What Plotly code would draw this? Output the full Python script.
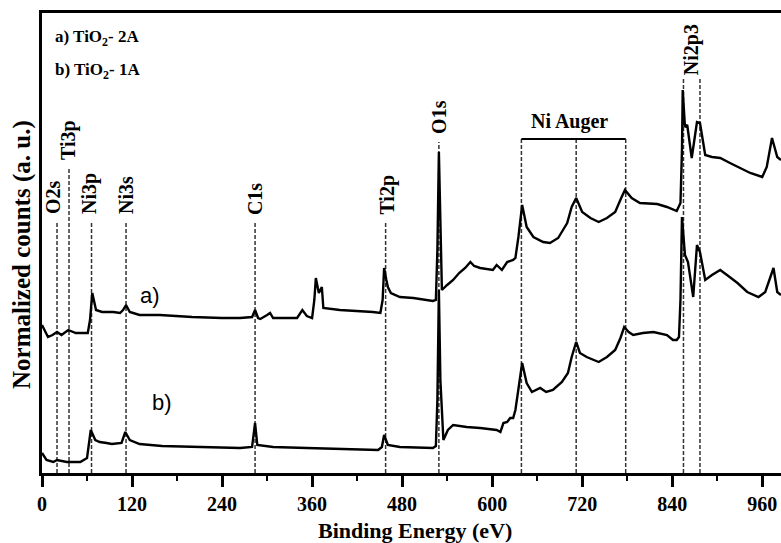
import plotly.graph_objects as go

# ---------------- data ----------------
energy_a = [0, 8, 14, 20, 26, 35, 45, 61, 64, 67, 72, 80, 95, 104, 108, 112, 117, 130, 157, 200,
            240, 264, 280, 284, 288, 291, 300, 304, 308, 317, 340, 347, 353, 360, 363, 365, 367, 369,
            371, 373, 375, 397, 441, 451, 454, 456, 459, 461, 465, 477, 495, 521, 525, 527, 529, 531,
            533, 540, 548, 556, 564, 571, 576, 584, 601, 606, 613, 620, 628, 631, 635, 640, 646, 655,
            668, 677, 688, 700, 706, 712, 720, 731, 742, 753, 764, 772, 777, 786, 797, 820, 833, 846,
            851, 853, 854, 857, 860, 866, 873, 877, 884, 893, 904, 917, 931, 944, 960, 966, 973, 980, 985]
counts_a = [148, 136, 138, 141, 138, 143, 140, 140, 153, 180, 163, 161, 161, 160, 163, 168, 161, 158, 158, 156,
            155, 155, 156, 163, 155, 154, 158, 160, 155, 155, 155, 163, 157, 155, 173, 195, 185, 180,
            183, 186, 165, 163, 161, 160, 173, 205, 193, 186, 180, 176, 175, 172, 173, 223, 321, 243,
            183, 188, 193, 200, 205, 211, 207, 205, 203, 208, 203, 211, 213, 215, 236, 268, 246, 236,
            231, 230, 235, 250, 266, 275, 261, 255, 251, 255, 261, 275, 283, 275, 270, 269, 266, 262,
            270, 323, 383, 346, 348, 315, 351, 350, 318, 316, 315, 310, 305, 300, 296, 306, 335, 316, 313]

energy_b = [0, 6, 15, 20, 33, 51, 60, 65, 71, 77, 86, 93, 106, 111, 117, 130, 160, 200, 264, 280,
            284, 287, 308, 353, 397, 448, 453, 456, 461, 477, 521, 525, 527, 529, 531, 535, 541, 548,
            566, 584, 606, 611, 615, 620, 624, 628, 631, 635, 640, 646, 653, 664, 672, 681, 693, 701,
            706, 712, 717, 726, 742, 753, 764, 771, 776, 782, 788, 801, 815, 833, 841, 846, 849, 851,
            853, 857, 861, 868, 873, 877, 884, 893, 904, 913, 927, 940, 955, 964, 975, 980, 985]
counts_b = [20, 13, 11, 13, 11, 11, 15, 43, 33, 31, 30, 29, 30, 41, 33, 29, 27, 26, 25, 26,
            50, 28, 26, 25, 24, 23, 26, 38, 28, 26, 25, 27, 73, 183, 93, 33, 43, 48,
            46, 45, 43, 41, 50, 51, 55, 55, 63, 83, 110, 90, 81, 85, 81, 83, 91, 100,
            116, 131, 120, 116, 111, 116, 123, 135, 146, 141, 138, 140, 141, 138, 133, 133, 136, 173,
            256, 218, 211, 176, 228, 221, 193, 198, 203, 198, 190, 181, 176, 181, 205, 181, 178]

x_ticks = [0, 120, 240, 360, 480, 600, 720, 840, 960]

peak_names = ["O2s", "Ti3p", "Ni3p", "Ni3s", "C1s", "Ti2p", "O1s"]
peak_pos = [20, 36, 66, 112, 284, 458, 529]
peak_top = [251, 305, 251, 251, 250, 250, 331]

auger_pos = [639, 712, 778]
auger_top = 334
ni2p_pos = [855, 877]
ni2p_top = 395

sample_labels = ["a) TiO<sub>2</sub>- 2A", "b) TiO<sub>2</sub>- 1A"]

# ---------------- figure ----------------
SERIF = "Liberation Serif"
fig = go.Figure()
fig.add_trace(go.Scatter(x=energy_a, y=counts_a, mode="lines",
                         line=dict(color="black", width=2.4), showlegend=False))
fig.add_trace(go.Scatter(x=energy_b, y=counts_b, mode="lines",
                         line=dict(color="black", width=2.4), showlegend=False))

dash_style = dict(color="#333333", width=1.5, dash="4px,2px")
shapes = []
for p, t in zip(peak_pos, peak_top):
    shapes.append(dict(type="line", xref="x", yref="y", x0=p, x1=p, y0=0, y1=t, line=dash_style, layer="below"))
for p in auger_pos:
    shapes.append(dict(type="line", xref="x", yref="y", x0=p, x1=p, y0=0, y1=auger_top, line=dash_style, layer="below"))
shapes.append(dict(type="line", xref="x", yref="y", x0=auger_pos[0], x1=auger_pos[-1], y0=auger_top, y1=auger_top,
                   line=dict(color="black", width=1.8)))
for p in ni2p_pos:
    shapes.append(dict(type="line", xref="x", yref="y", x0=p, x1=p, y0=0, y1=ni2p_top, line=dash_style, layer="below"))

annotations = []
label_shift = [-4, -1, -2, 0, 0, 1, 0]
for name, p, t, sh in zip(peak_names, peak_pos, peak_top, label_shift):
    annotations.append(dict(x=p, y=t + 6, xref="x", yref="y", text=name, textangle=-90, showarrow=False,
                            xanchor="center", yanchor="bottom", xshift=sh,
                            font=dict(family=SERIF, size=20, color="black", weight="bold")))
annotations.append(dict(x=(ni2p_pos[0] + ni2p_pos[1]) / 2, y=ni2p_top + 1, xref="x", yref="y", text="Ni2p3",
                        textangle=-90, showarrow=False, xanchor="center", yanchor="bottom",
                        font=dict(family=SERIF, size=20, color="black", weight="bold")))
annotations.append(dict(x=703, y=auger_top + 4, xref="x", yref="y", text="Ni Auger", showarrow=False,
                        xanchor="center", yanchor="bottom",
                        font=dict(family=SERIF, size=20, color="black", weight="bold")))
annotations.append(dict(x=144, y=178, xref="x", yref="y", text="a)", showarrow=False,
                        font=dict(family="Liberation Sans", size=22, color="black")))
annotations.append(dict(x=160, y=71, xref="x", yref="y", text="b)", showarrow=False,
                        font=dict(family="Liberation Sans", size=22, color="black")))
label_y = [0.945, 0.873]
for lab, ly in zip(sample_labels, label_y):
    annotations.append(dict(x=0.015, y=ly, xref="paper", yref="paper", text=lab, showarrow=False,
                            xanchor="left", yanchor="middle",
                            font=dict(family=SERIF, size=17, color="black", weight="bold")))
annotations.append(dict(x=-0.027, y=0.474, xref="paper", yref="paper", text="Normalized counts (a. u.)",
                        textangle=-90, showarrow=False, xanchor="center", yanchor="middle",
                        font=dict(family=SERIF, size=25, color="black", weight="bold")))
annotations.append(dict(x=0.505, y=-0.124, xref="paper", yref="paper", text="Binding Energy (eV)",
                        showarrow=False, xanchor="center", yanchor="middle",
                        font=dict(family=SERIF, size=22, color="black", weight="bold")))

fig.update_layout(
    width=781, height=543,
    margin=dict(l=42, r=0, t=13, b=70),
    paper_bgcolor="white", plot_bgcolor="white",
    shapes=shapes, annotations=annotations,
    xaxis=dict(range=[0, 985], tickvals=x_ticks, ticks="outside", ticklen=11, tickwidth=2.5,
               tickcolor="black", showline=True, linewidth=2.5, linecolor="black", mirror=True,
               showgrid=False, zeroline=False, automargin=False,
               tickfont=dict(family=SERIF, size=20, color="black", weight="bold"),
               minor=dict(tickvals=[60, 180, 300, 420, 540, 660, 780, 900], ticks="outside",
                          ticklen=5, tickwidth=2, tickcolor="black")),
    yaxis=dict(range=[0, 460], showticklabels=False, ticks="", showline=True, linewidth=2.5,
               linecolor="black", showgrid=False, zeroline=False, automargin=False),
)

fig.write_html("out.html", config={"displayModeBar": False},
               post_script="document.body.style.margin='0';document.body.style.overflow='hidden';")
